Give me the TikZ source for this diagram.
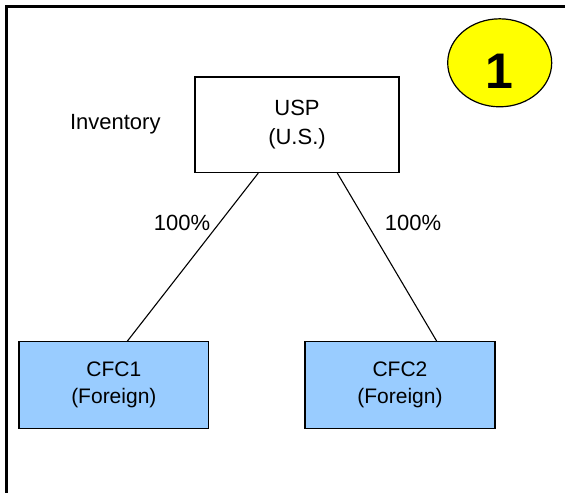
\documentclass[tikz,border=0pt]{standalone}
\usepackage{fontspec}
\setmainfont{Liberation Sans}
\usetikzlibrary{shapes.geometric}
\definecolor{cfcblue}{RGB}{153,204,255}
\definecolor{badgeyellow}{RGB}{255,255,0}
\tikzset{
  usptext/.style={font=\fontsize{22}{28.4}\selectfont, align=center},
  box/.style={draw=black, line width=1.1pt, inner sep=0pt, usptext},
  cfcbox/.style={box, fill=cfcblue, font=\fontsize{21}{26.7}\selectfont},
  lbl/.style={font=\fontsize{22}{26}\selectfont, inner sep=0pt, anchor=base},
  conn/.style={draw=black, line width=1.1pt},
  frame/.style={draw=black, line width=3pt}
}
\begin{document}
\begin{tikzpicture}[x=1pt, y=-1pt]
\useasboundingbox (0,0) rectangle (565,493);
\draw[frame] (565,6.5) -- (6.5,6.5) -- (6.5,493);
\node[ellipse, draw=black, line width=1.2pt, fill=badgeyellow, minimum width=104pt, minimum height=88pt, inner sep=0pt,
      font=\fontsize{50}{50}\selectfont\bfseries, text height=50.4pt, text depth=0pt] (badge) at (499.7,62.8) {1};
\node[box, minimum width=204pt, minimum height=95.5pt] (usp) at (297,124.75) {USP\\(U.S.)};
\node[cfcbox, minimum width=189.7pt, minimum height=86.6pt] (cfc1) at (113.85,385) {CFC1\\(Foreign)};
\node[cfcbox, minimum width=190pt, minimum height=86.6pt] (cfc2) at (400,385) {CFC2\\(Foreign)};
\node[lbl] (inv) at (115.3,129.3) {Inventory};
\node[lbl] (p1) at (182,230) {100\%};
\node[lbl] (p2) at (413,230) {100\%};
\draw[conn] ([xshift=-38.7pt]usp.south) -- ([xshift=13.5pt]cfc1.north);
\draw[conn] ([xshift=40.3pt]usp.south) -- ([xshift=36.7pt]cfc2.north);
\end{tikzpicture}
\end{document}
